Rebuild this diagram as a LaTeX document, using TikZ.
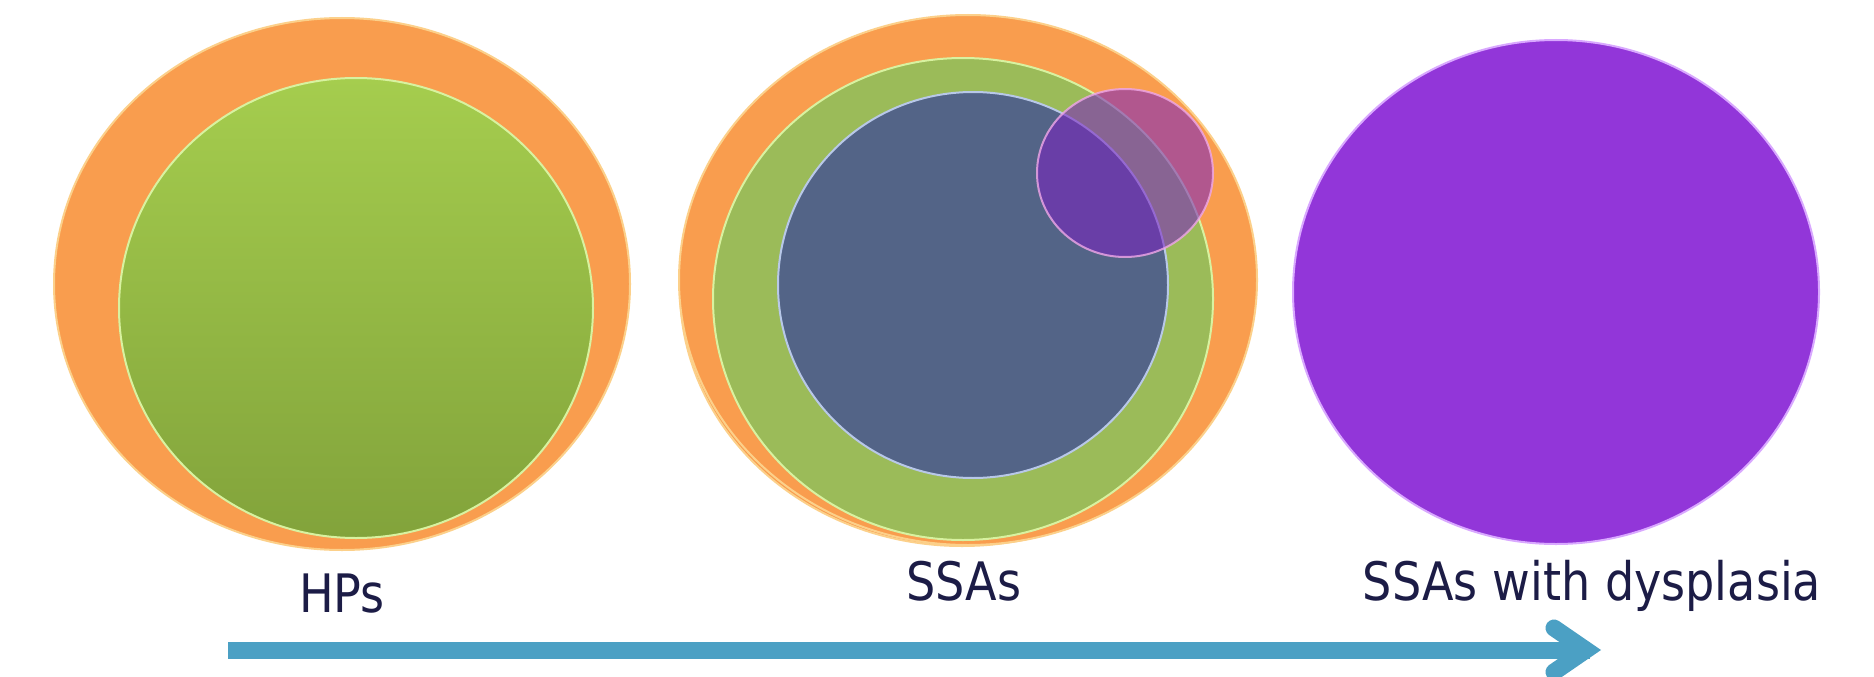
\documentclass[tikz,border=0pt]{standalone}
\usepackage{fontspec}
\usepackage{graphicx}
\setmainfont{DejaVu Sans}
\usetikzlibrary{shapes.geometric}
\definecolor{orng}{HTML}{F99D4E}
\definecolor{orngrim}{HTML}{FCD08A}
\definecolor{grntop}{HTML}{A5CD4E}
\definecolor{grnbot}{HTML}{82A33B}
\definecolor{grnflat}{HTML}{9BBB59}
\definecolor{grnrim}{HTML}{D8F2A0}
\definecolor{bluefill}{HTML}{536487}
\definecolor{bluerim}{HTML}{B8C8E8}
\definecolor{pinkc}{HTML}{7B22C0}
\definecolor{pinkrim}{HTML}{F0A8E8}
\definecolor{purp}{HTML}{9236D9}
\definecolor{purprim}{HTML}{D9A8FF}
\definecolor{txt}{HTML}{1C1C46}
\definecolor{arrowc}{HTML}{4BA0C4}
\tikzset{
  disc/.style={line width=2pt},
  label/.style={text=txt, inner sep=0pt, anchor=base,
    font=\fontsize{53}{56}\selectfont},
  flow/.style={draw=arrowc, line width=17pt},
}
\newcommand{\narrow}[1]{\scalebox{0.87}[1]{#1}}
\begin{document}
\begin{tikzpicture}[x=1pt,y=-1pt]
\fill[white] (0,0) rectangle (1874,677);
\useasboundingbox (0,0) rectangle (1874,677);

% HPs
\path[disc, fill=orng, draw=orngrim] (342,284) ellipse [x radius=288pt, y radius=266pt];
\path[disc, top color=grntop, bottom color=grnbot, draw=grnrim] (356,308) ellipse [x radius=237pt, y radius=230pt];

% SSAs
\path[disc, fill=orng, draw=orngrim] (962,290) ellipse [x radius=282pt, y radius=256pt];
\path[disc, fill=orng, draw=orngrim] (968,280) ellipse [x radius=289pt, y radius=265pt];
\path[disc, fill=grnflat, draw=grnrim] (963,299) ellipse [x radius=250pt, y radius=241pt];
\path[disc, fill=bluefill, draw=bluerim] (973,285) ellipse [x radius=195pt, y radius=193pt];
\path[disc, fill=pinkc, fill opacity=0.57, draw=pinkrim, draw opacity=0.8] (1125,173) ellipse [x radius=88pt, y radius=84pt];

% SSAs with dysplasia
\path[disc, fill=purp, draw=purprim] (1556,292) ellipse [x radius=263pt, y radius=252pt];

% labels
\node[label] (hp) at (342,612) {\narrow{HPs}};
\node[label] (ssa) at (964,600) {\narrow{SSAs}};
\node[label] (ssad) at (1592,600) {\narrow{SSAs with dysplasia}};

% arrow
\coordinate (a0) at (228,650);
\coordinate (a1) at (1590,650);
\draw[flow] (a0) -- (a1);
\draw[flow, line join=miter, line cap=round] ([shift={(-36pt,22pt)}]a1) -- ([shift={(-4pt,0pt)}]a1) -- ([shift={(-36pt,-22pt)}]a1);
\end{tikzpicture}
\end{document}
